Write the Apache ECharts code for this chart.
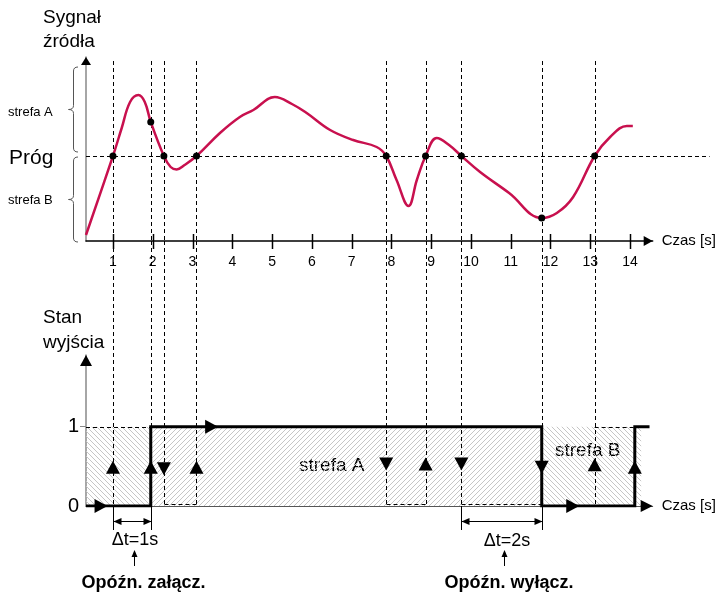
<!DOCTYPE html>
<html>
<head>
<meta charset="utf-8">
<script src="https://cdn.jsdelivr.net/npm/echarts@6.0.0/dist/echarts.min.js"></script>
<style>
  html, body { margin: 0; background: #fff; }
  #chart { width: 722px; height: 592px; }
</style>
</head>
<body>
<div id="chart"></div>
<script>
// time axis
const timeTicks = [1, 2, 3, 4, 5, 6, 7, 8, 9, 10, 11, 12, 13, 14];
const xMin = 0.322;
const xMax = 14.57;

// source signal (top chart)
const threshold = 8.5;
const signalX = [0.322, 1.0, 1.22, 1.43, 1.64, 1.8, 1.95, 2.28, 2.45, 2.6, 2.8, 3.1, 3.69, 4.19, 4.53, 5.07, 5.5, 5.87, 6.46, 7.04, 7.63, 7.87, 8.13, 8.43, 8.64, 8.86, 9.14, 9.45, 9.76, 10.23, 10.96, 11.78, 12.16, 12.57, 13.11, 13.5, 13.92, 14.07];
const signalY = [0.6, 8.5, 11.3, 13.9, 14.6, 13.9, 11.9, 8.5, 7.4, 7.15, 7.6, 8.5, 10.8, 12.4, 13.1, 14.4, 13.7, 12.8, 11.1, 10.1, 9.4, 8.5, 6.1, 3.5, 6.1, 8.5, 10.3, 9.6, 8.5, 6.9, 4.8, 2.3, 2.8, 4.4, 8.5, 10.4, 11.5, 11.5];
const crossX = [1.0, 1.95, 2.28, 3.1, 7.87, 8.86, 9.76, 11.78, 13.11];
const crossY = [8.5, 11.9, 8.5, 8.5, 8.5, 8.5, 8.5, 2.3, 8.5];
const zoneLow = [8.9, -0.1];
const zoneHigh = [17.4, 8.4];

// output state (bottom chart)
const stateX = [0.322, 1.95, 1.95, 11.78, 11.78, 14.12, 14.12, 14.49];
const stateY = [0, 0, 1, 1, 0, 0, 1, 1];
const guideLevel = [0, 1, 0, 0, 0, 0, 0, 1, 0];
const lowDashFrom = [2.28, 7.87, 9.76];
const lowDashTo = [3.1, 8.86, 11.78];
const highDashFrom = [0.322, 13.11];
const highDashTo = [1.95, 14.12];
const hatchFrom = [0.322, 1.95, 11.78, 14.12];
const hatchTo = [1.95, 11.78, 14.12, 14.28];
const hatchDir = ['\\', '/', '\\', '\\'];
const arrowX = [1.0, 1.95, 2.28, 3.1, 7.87, 8.86, 9.76, 11.78, 13.11, 14.12, 0.7, 3.48, 12.56];
const arrowY = [0.49, 0.49, 0.47, 0.49, 0.53, 0.53, 0.53, 0.49, 0.52, 0.49, 0, 1, 0];
const arrowRot = [0, 0, 180, 0, 180, 0, 180, 180, 0, 0, -90, -90, -90];
const delayFrom = [1.0, 9.76];
const delayTo = [1.95, 11.78];

const FONT = '"Liberation Sans", Arial, sans-serif';
const TOP = { top: 57, height: 184 };
const BOT = { top: 355, height: 151 };

function hatch(dir) {
  const n = 5;
  const c = document.createElement('canvas');
  c.width = n; c.height = n;
  const g = c.getContext('2d');
  g.fillStyle = '#c6c6c6';
  for (let i = 0; i < n; i++) {
    g.fillRect(i, dir === '/' ? n - 1 - i : i, 1, 1);
  }
  return { image: c, repeat: 'repeat' };
}

const snap = v => Math.round(v) + 0.5;
const seg = (x1, y1, x2, y2, dash, w) => ({
  type: 'line', shape: { x1, y1, x2, y2 },
  style: { stroke: '#000', lineWidth: w || 1, lineDash: dash ? [4, 3] : null }
});
const tri = pts => ({ type: 'polygon', shape: { points: pts }, style: { fill: '#000' } });
const curve = (x1, y1, cx, cy, x2, y2) => ({
  type: 'bezierCurve', shape: { x1, y1, cpx1: cx, cpy1: cy, x2, y2 },
  style: { stroke: '#555', lineWidth: 1, fill: null }
});

function brace(x, y1, y2) {
  const ym = (y1 + y2) / 2, r = 4, w = 4.5;
  return [
    curve(x + w, y1, x, y1, x, y1 + r),
    { type: 'line', shape: { x1: x, y1: y1 + r, x2: x, y2: ym - r }, style: { stroke: '#555', lineWidth: 1 } },
    curve(x, ym - r, x, ym, x - w - 0.5, ym),
    curve(x - w - 0.5, ym, x, ym, x, ym + r),
    { type: 'line', shape: { x1: x, y1: ym + r, x2: x, y2: y2 - r }, style: { stroke: '#555', lineWidth: 1 } },
    curve(x, y2 - r, x, y2, x + w, y2)
  ];
}

function renderTop(params, api) {
  const kids = [];
  const o = api.coord([xMin, 0]);
  const end = api.coord([xMax, 0]);
  const ty = snap(api.coord([xMin, threshold])[1]);
  kids.push(seg(o[0], ty, api.coord([16.0, threshold])[0], ty, true));
  crossX.forEach(x => {
    const px = snap(api.coord([x, 0])[0]);
    kids.push(seg(px, api.coord([x, 18])[1], px, o[1], true));
  });
  timeTicks.forEach(t => {
    const px = snap(api.coord([t, 0])[0]);
    kids.push(seg(px, o[1] - 7, px, o[1] + 8, false, 1.5));
  });
  zoneLow.forEach((lo, i) => {
    const a = api.coord([xMin, zoneHigh[i]]), b = api.coord([xMin, lo]);
    brace(a[0] - 12.5, a[1], b[1]).forEach(k => kids.push(k));
  });
  const top = api.coord([xMin, 18.4]);
  kids.push(tri([[top[0], top[1]], [top[0] - 5, top[1] + 8], [top[0] + 5, top[1] + 8]]));
  kids.push(tri([[end[0], end[1]], [end[0] - 9, end[1] - 5], [end[0] - 9, end[1] + 5]]));
  return { type: 'group', children: kids };
}

function renderBottom(params, api) {
  const kids = [];
  const axisTopPx = TOP.top + TOP.height;
  crossX.forEach((x, i) => {
    const p = api.coord([x, guideLevel[i]]);
    const px = snap(p[0]);
    kids.push(seg(px, axisTopPx, px, p[1], true));
  });
  lowDashFrom.forEach((x, i) => {
    const a = api.coord([x, 0]), b = api.coord([lowDashTo[i], 0]);
    kids.push(seg(snap(a[0]), a[1] - 1.5, snap(b[0]), a[1] - 1.5, true));
  });
  highDashFrom.forEach((x, i) => {
    const a = api.coord([x, 1]), b = api.coord([highDashTo[i], 1]);
    kids.push(seg(a[0], snap(a[1]), b[0], snap(a[1]), true));
  });
  delayFrom.forEach((x0, i) => {
    const a = api.coord([x0, 0]), b = api.coord([delayTo[i], 0]);
    const xa = snap(a[0]), xb = snap(b[0]), y0 = a[1];
    kids.push(seg(xa, y0, xa, y0 + 24), seg(xb, y0, xb, y0 + 24));
    const ym = snap(y0 + 14.5);
    kids.push(seg(xa, ym, xb, ym));
    kids.push(tri([[xa, ym], [xa + 8, ym - 3.5], [xa + 8, ym + 3.5]]));
    kids.push(tri([[xb, ym], [xb - 8, ym - 3.5], [xb - 8, ym + 3.5]]));
    const xm = snap((a[0] + b[0]) / 2 + 2);
    kids.push(seg(xm, y0 + 60, xm, y0 + 50));
    kids.push(tri([[xm, y0 + 44], [xm - 3, y0 + 51], [xm + 3, y0 + 51]]));
  });
  const top = api.coord([xMin, 1.904]);
  kids.push(tri([[top[0], top[1]], [top[0] - 6, top[1] + 11], [top[0] + 6, top[1] + 11]]));
  const end = api.coord([xMax, 0]);
  kids.push(tri([[end[0], end[1]], [end[0] - 12, end[1] - 6], [end[0] - 12, end[1] + 6]]));
  return { type: 'group', children: kids };
}

const chart = echarts.init(document.getElementById('chart'));

const hatchSeries = hatchFrom.map((x, i) => ({
  type: 'line', xAxisIndex: 1, yAxisIndex: 1, silent: true, z: 1,
  data: [[x, 1], [hatchTo[i], 1]],
  symbol: 'none',
  lineStyle: { width: 0 },
  areaStyle: { color: hatch(hatchDir[i]), opacity: 1 }
}));

chart.setOption({
  animation: false,
  textStyle: { fontFamily: FONT },
  grid: [
    { left: 86, right: 69.3, top: TOP.top, height: TOP.height },
    { left: 86, right: 69.3, top: BOT.top, height: BOT.height }
  ],
  xAxis: [
    {
      type: 'value', gridIndex: 0, min: xMin, max: xMax,
      name: 'Czas [s]', nameLocation: 'end', nameGap: 9,
      nameTextStyle: { fontSize: 15, color: '#000', fontFamily: FONT },
      axisLine: { lineStyle: { color: '#000', width: 1.5 } },
      axisTick: { show: false },
      axisLabel: { customValues: timeTicks, fontSize: 14, color: '#000', margin: 14, fontFamily: FONT },
      splitLine: { show: false }
    },
    {
      type: 'value', gridIndex: 1, min: xMin, max: xMax,
      name: 'Czas [s]', nameLocation: 'end', nameGap: 9,
      nameTextStyle: { fontSize: 15, color: '#000', fontFamily: FONT },
      axisLine: { lineStyle: { color: '#555', width: 1 } },
      axisTick: { show: false },
      axisLabel: { show: false },
      splitLine: { show: false }
    }
  ],
  yAxis: [
    {
      type: 'value', gridIndex: 0, min: 0, max: 18.4,
      axisLine: { show: true, lineStyle: { color: '#888', width: 1.5 } },
      axisTick: { show: false },
      axisLabel: { show: false },
      splitLine: { show: false }
    },
    {
      type: 'value', gridIndex: 1, min: 0, max: 1.904,
      axisLine: { show: true, lineStyle: { color: '#888', width: 1.5 } },
      axisTick: { show: true, customValues: [1], length: 6, lineStyle: { color: '#888' } },
      axisLabel: { customValues: [0, 1], fontSize: 20, color: '#000', margin: 7, fontFamily: FONT },
      splitLine: { show: false }
    }
  ],
  series: [
    ...hatchSeries,
    {
      type: 'custom', xAxisIndex: 0, yAxisIndex: 0, silent: true, z: 2,
      data: [[0, 0]], renderItem: renderTop
    },
    {
      type: 'line', xAxisIndex: 0, yAxisIndex: 0, silent: true, z: 3,
      data: signalX.map((x, i) => [x, signalY[i]]),
      smooth: 0.4,
      symbol: 'none',
      lineStyle: { color: '#c8104e', width: 2.5 }
    },
    {
      type: 'scatter', xAxisIndex: 0, yAxisIndex: 0, silent: true, z: 5,
      data: crossX.map((x, i) => [x, crossY[i]]),
      symbolSize: 7, itemStyle: { color: '#000', opacity: 1 }
    },
    {
      type: 'custom', xAxisIndex: 1, yAxisIndex: 1, silent: true, z: 2,
      data: [[0, 0]], renderItem: renderBottom
    },
    {
      type: 'line', xAxisIndex: 1, yAxisIndex: 1, silent: true, z: 3,
      data: stateX.map((x, i) => [x, stateY[i]]),
      symbol: 'none',
      lineStyle: { color: '#000', width: 3, join: 'miter' }
    },
    {
      type: 'scatter', xAxisIndex: 1, yAxisIndex: 1, silent: true, clip: false, z: 5,
      symbol: 'triangle',
      data: arrowX.map((x, i) => ({
        value: [x, arrowY[i]],
        symbolRotate: arrowRot[i]
      })),
      symbolSize: [14, 13],
      itemStyle: { color: '#000', opacity: 1 }
    }
  ],
  graphic: [
    { type: 'text', x: 43, y: 18, style: { text: 'Sygnał', font: '19px ' + FONT, fill: '#000', verticalAlign: 'middle' } },
    { type: 'text', x: 43, y: 42, style: { text: 'źródła', font: '19px ' + FONT, fill: '#000', verticalAlign: 'middle' } },
    { type: 'text', x: 8, y: 112, style: { text: 'strefa A', font: '13px ' + FONT, fill: '#000', verticalAlign: 'middle' } },
    { type: 'text', x: 9, y: 158, style: { text: 'Próg', font: '21px ' + FONT, fill: '#000', verticalAlign: 'middle' } },
    { type: 'text', x: 8, y: 200, style: { text: 'strefa B', font: '13px ' + FONT, fill: '#000', verticalAlign: 'middle' } },
    { type: 'text', x: 43, y: 318, style: { text: 'Stan', font: '19px ' + FONT, fill: '#000', verticalAlign: 'middle' } },
    { type: 'text', x: 43, y: 343, style: { text: 'wyjścia', font: '19px ' + FONT, fill: '#000', verticalAlign: 'middle' } },
    { type: 'text', x: 299, y: 466, style: { text: 'strefa A', font: '19px ' + FONT, fill: '#000', verticalAlign: 'middle' } },
    { type: 'text', x: 555, y: 451, style: { text: 'strefa B', font: '19px ' + FONT, fill: '#000', verticalAlign: 'middle' } },
    { type: 'text', x: 135, y: 540, style: { text: 'Δt=1s', font: '18px ' + FONT, fill: '#000', align: 'center', verticalAlign: 'middle' } },
    { type: 'text', x: 507, y: 541, style: { text: 'Δt=2s', font: '18px ' + FONT, fill: '#000', align: 'center', verticalAlign: 'middle' } },
    { type: 'text', x: 143.5, y: 583, style: { text: 'Opóźn. załącz.', font: 'bold 18px ' + FONT, fill: '#000', align: 'center', verticalAlign: 'middle' } },
    { type: 'text', x: 509, y: 583, style: { text: 'Opóźn. wyłącz.', font: 'bold 18px ' + FONT, fill: '#000', align: 'center', verticalAlign: 'middle' } }
  ]
});
</script>
</body>
</html>
